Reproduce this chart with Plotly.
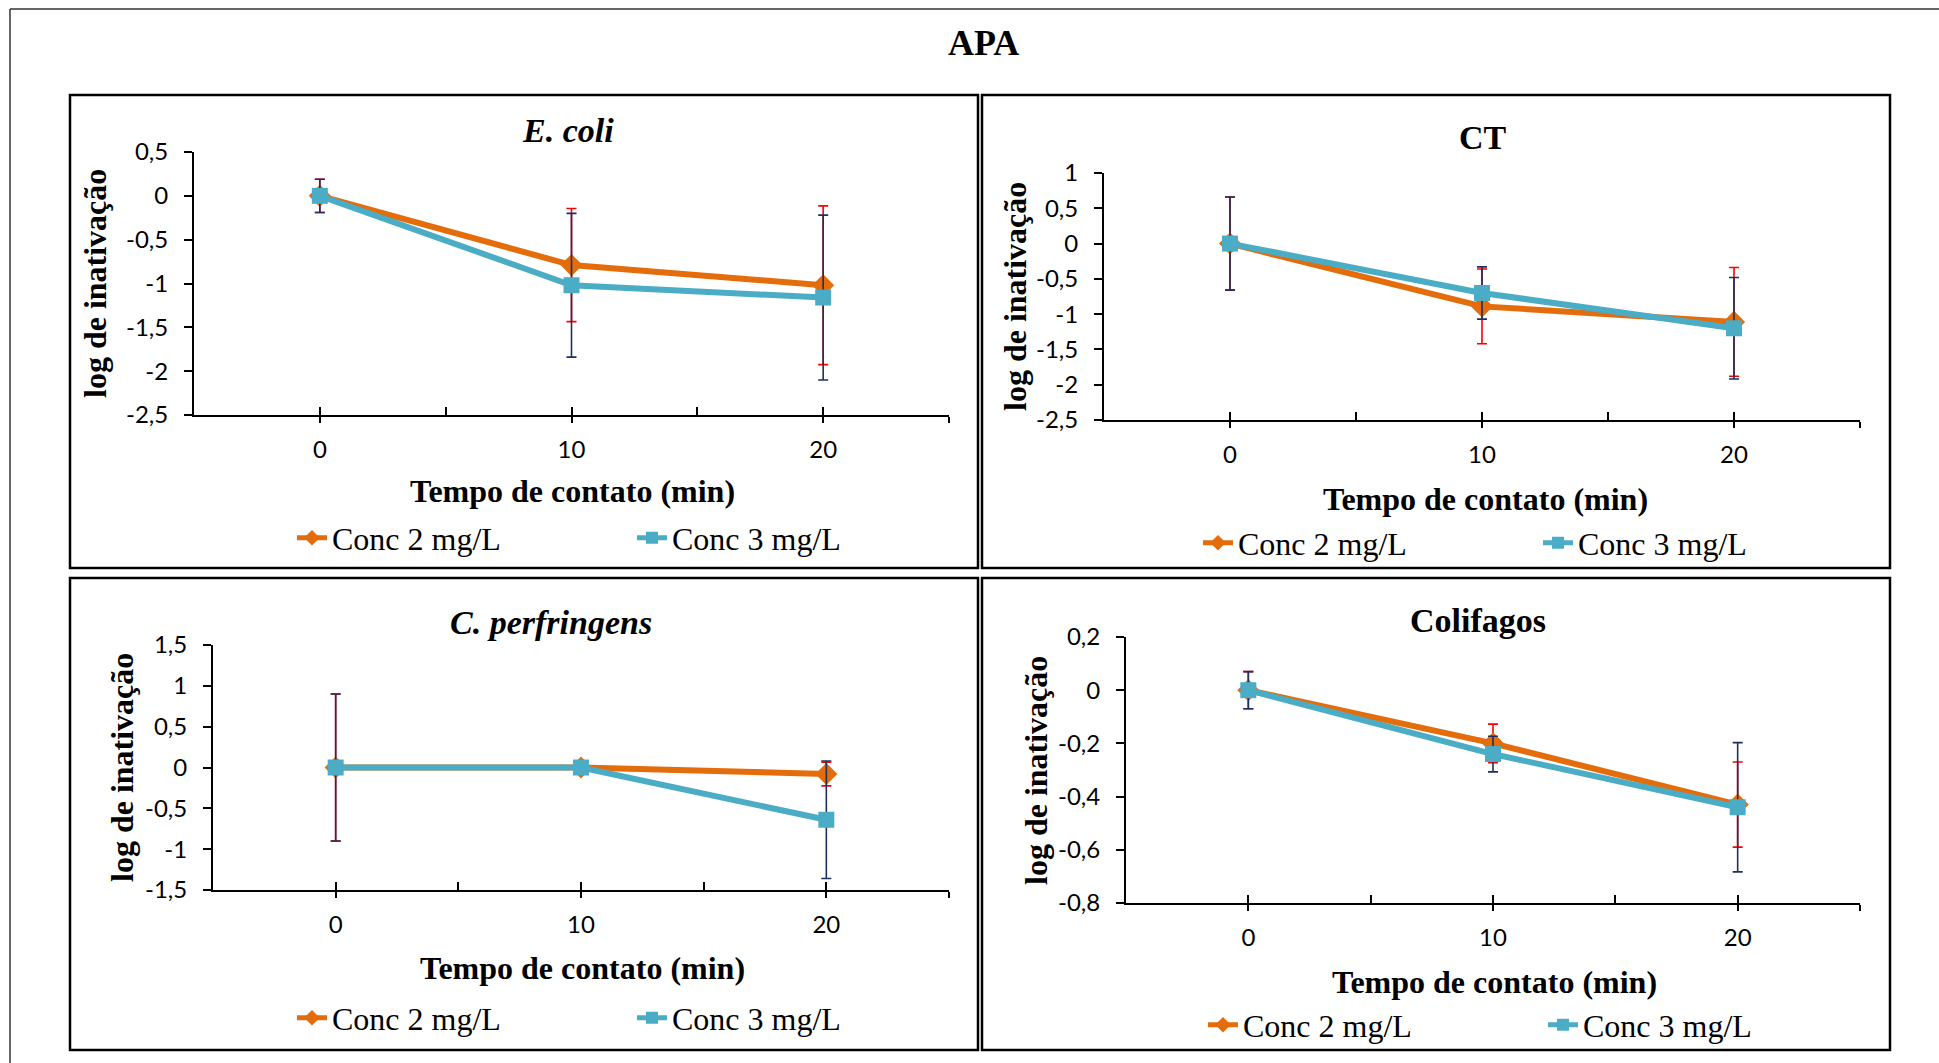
import plotly.graph_objects as go

W, H = 1939, 1063

# ---------------- data ----------------
times = [0, 10, 20]
x_tick_vals = [0, 10, 20]
x_tick_labels = ["0", "10", "20"]

series_names = ["Conc 2 mg/L", "Conc 3 mg/L"]
panel_titles = ["<i>E. coli</i>", "CT", "<i>C. perfringens</i>", "Colifagos"]

# E. coli
ecoli_c2 = [0, -0.79, -1.02]
ecoli_c2_err = [0.19, 0.645, 0.905]
ecoli_c3 = [0, -1.02, -1.16]
ecoli_c3_err = [0.19, 0.82, 0.94]
ecoli_yticks = [0.5, 0, -0.5, -1, -1.5, -2, -2.5]

# CT
ct_c2 = [0, -0.89, -1.11]
ct_c2_err = [0.66, 0.53, 0.77]
ct_c3 = [0, -0.70, -1.20]
ct_c3_err = [0.66, 0.37, 0.72]
ct_yticks = [1, 0.5, 0, -0.5, -1, -1.5, -2, -2.5]

# C. perfringens
cp_c2 = [0, 0, -0.08]
cp_c2_err = [0.9, 0, 0.145]
cp_c3 = [0, 0, -0.64]
cp_c3_err = [0.9, 0, 0.72]
cp_yticks = [1.5, 1, 0.5, 0, -0.5, -1, -1.5]

# Colifagos
col_c2 = [0, -0.20, -0.43]
col_c2_err = [0.07, 0.0725, 0.16]
col_c3 = [0, -0.24, -0.44]
col_c3_err = [0.07, 0.067, 0.243]
col_yticks = [0.2, 0, -0.2, -0.4, -0.6, -0.8]

# ---------------- styling ----------------
ORANGE = "#E46C0A"
TEAL = "#4BACC6"
RED = "#FF0000"
NAVY = "#1F2F5F"
SERIF = "Liberation Serif"
SANS = "Lato"


def px_x(v):
    return v / W


def px_y(v):
    return 1 - v / H


def lbl(v):
    return f"{v:g}".replace(".", ",")


# pixel layout of each panel
panels = [
    dict(c2=ecoli_c2, c2e=ecoli_c2_err, c3=ecoli_c3, c3e=ecoli_c3_err, yt=ecoli_yticks,
         plot=(194, 949, 152, 415), box=(70, 978, 95, 568),
         title=(568, 131), ytitle=(95, 284), xtitle=(572, 491), leg=(292, 538)),
    dict(c2=ct_c2, c2e=ct_c2_err, c3=ct_c3, c3e=ct_c3_err, yt=ct_yticks,
         plot=(1104, 1860, 173, 420), box=(982, 1890, 95, 568),
         title=(1483, 137), ytitle=(1015, 297), xtitle=(1485, 499), leg=(1198, 543)),
    dict(c2=cp_c2, c2e=cp_c2_err, c3=cp_c3, c3e=cp_c3_err, yt=cp_yticks,
         plot=(213, 949, 645, 890), box=(70, 978, 578, 1050),
         title=(551, 622), ytitle=(122, 768), xtitle=(582, 968), leg=(292, 1018)),
    dict(c2=col_c2, c2e=col_c2_err, c3=col_c3, c3e=col_c3_err, yt=col_yticks,
         plot=(1126, 1860, 637, 903), box=(982, 1890, 578, 1050),
         title=(1478, 620), ytitle=(1036, 771), xtitle=(1494, 982), leg=(1203, 1025)),
]

fig = go.Figure()
layout = dict(
    width=W, height=H,
    margin=dict(l=0, r=0, t=0, b=0, pad=0, autoexpand=False),
    paper_bgcolor="white", plot_bgcolor="white",
    showlegend=True,
    annotations=[], shapes=[],
)

for i, p in enumerate(panels):
    n = i + 1
    xa = "x" if n == 1 else f"x{n}"
    ya = "y" if n == 1 else f"y{n}"
    xov = f"x{n + 4}"
    leg = "legend" if n == 1 else f"legend{n}"
    x0, x1, y0, y1 = p["plot"]

    fig.add_trace(go.Scatter(
        x=times, y=p["c2"], name=series_names[0], mode="lines+markers",
        line=dict(color=ORANGE, width=6),
        marker=dict(symbol="diamond", size=17, color=ORANGE),
        error_y=dict(type="data", array=p["c2e"], color=RED, thickness=1.6, width=5),
        xaxis=xa, yaxis=ya, legend=leg, cliponaxis=False,
    ))
    fig.add_trace(go.Scatter(
        x=times, y=p["c3"], name=series_names[1], mode="lines+markers",
        line=dict(color=TEAL, width=6),
        marker=dict(symbol="square", size=16, color=TEAL),
        error_y=dict(type="data", array=p["c3e"], color=NAVY, thickness=1.6, width=5),
        xaxis=xa, yaxis=ya, legend=leg, cliponaxis=False,
    ))
    # empty trace to activate overlay axis for inner tick marks
    fig.add_trace(go.Scatter(x=[], y=[], xaxis=xov, yaxis=ya, showlegend=False,
                             hoverinfo="skip"))

    yt = p["yt"]
    layout[("xaxis" if n == 1 else f"xaxis{n}")] = dict(
        domain=[px_x(x0), px_x(x1)], anchor=ya, range=[-5, 25],
        tickvals=x_tick_vals + [25], ticktext=x_tick_labels + [""],
        ticks="outside", ticklen=6, tickwidth=2, tickcolor="black",
        showline=True, linecolor="black", linewidth=2,
        showgrid=False, zeroline=False, automargin=False,
        tickfont=dict(family=SANS, size=24, color="black"),
        ticklabelstandoff=6,
    )
    layout[f"xaxis{n + 4}"] = dict(
        domain=[px_x(x0), px_x(x1)], anchor=ya, overlaying=xa, range=[-5, 25],
        tickvals=[0, 5, 10, 15, 20, 25], ticks="inside", ticklen=8, tickwidth=2,
        tickcolor="black", showticklabels=False, showline=False,
        showgrid=False, zeroline=False, automargin=False,
    )
    layout[("yaxis" if n == 1 else f"yaxis{n}")] = dict(
        domain=[px_y(y1), px_y(y0)], anchor=xa, range=[min(yt), max(yt)],
        tickvals=yt, ticktext=[lbl(v) for v in yt],
        ticks="outside", ticklen=8, tickwidth=2, tickcolor="black",
        showline=True, linecolor="black", linewidth=2,
        showgrid=False, zeroline=False, automargin=False,
        tickfont=dict(family=SANS, size=24, color="black"),
        ticklabelstandoff=11,
    )
    lx, ly = p["leg"]
    layout[leg] = dict(
        orientation="h", x=px_x(lx), y=px_y(ly), xanchor="left", yanchor="middle",
        bgcolor="rgba(0,0,0,0)", borderwidth=0, entrywidth=295,
        font=dict(family=SERIF, size=32, color="black"),
        itemsizing="constant",
    )
    bx0, bx1, by0, by1 = p["box"]
    layout["shapes"].append(dict(
        type="rect", xref="paper", yref="paper",
        x0=px_x(bx0), x1=px_x(bx1), y0=px_y(by1), y1=px_y(by0),
        line=dict(color="black", width=2.5), fillcolor="rgba(0,0,0,0)", layer="below",
    ))
    tx, ty = p["title"]
    layout["annotations"].append(dict(
        text=f"<b>{panel_titles[i]}</b>", x=px_x(tx), y=px_y(ty), xref="paper", yref="paper",
        xanchor="center", yanchor="middle", showarrow=False,
        font=dict(family=SERIF, size=34, color="black"),
    ))
    ax, ay = p["ytitle"]
    layout["annotations"].append(dict(
        text="<b>log de inativação</b>", x=px_x(ax), y=px_y(ay), xref="paper", yref="paper",
        xanchor="center", yanchor="middle", showarrow=False, textangle=-90,
        font=dict(family=SERIF, size=32, color="black"),
    ))
    bx, by = p["xtitle"]
    layout["annotations"].append(dict(
        text="<b>Tempo de contato (min)</b>", x=px_x(bx), y=px_y(by), xref="paper", yref="paper",
        xanchor="center", yanchor="middle", showarrow=False,
        font=dict(family=SERIF, size=32, color="black"),
    ))

# main title
layout["annotations"].append(dict(
    text="<b>APA</b>", x=px_x(983), y=px_y(43), xref="paper", yref="paper",
    xanchor="center", yanchor="middle", showarrow=False,
    font=dict(family=SERIF, size=36, color="black"),
))
# outer frame (left and top edges)
layout["shapes"].append(dict(type="line", xref="paper", yref="paper",
                             x0=px_x(10), x1=px_x(10), y0=0, y1=px_y(9),
                             line=dict(color="#333333", width=1.5)))
layout["shapes"].append(dict(type="line", xref="paper", yref="paper",
                             x0=px_x(10), x1=1, y0=px_y(9), y1=px_y(9),
                             line=dict(color="#333333", width=1.5)))

fig.update_layout(**layout)
fig.write_html("out.html")
